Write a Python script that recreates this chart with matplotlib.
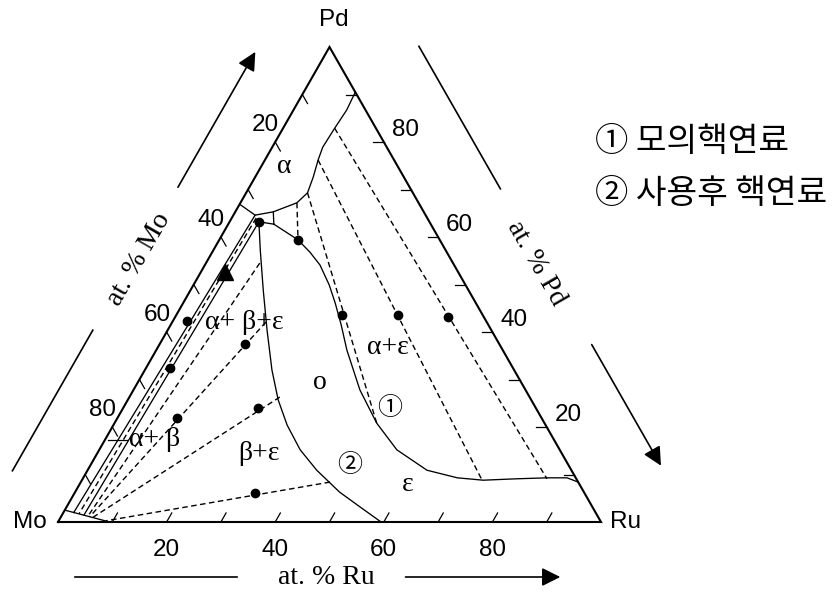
import numpy as np
import matplotlib.pyplot as plt

plt.rcParams['font.family'] = ['Liberation Sans', 'DejaVu Sans']

# compositions in at.% as (Ru, Pd); Mo is the balance

# alpha (Pd-rich) boundary, Pd-Ru side round to the Mo-Pd side
alpha_ru = [9.5, 9.8, 9.5, 9.3, 9.8, 10.7, 11.3, 10.4, 7.0, 4.0, 0.0]
alpha_pd = [90.5, 86.7, 82.9, 78.9, 76.2, 72.6, 69.3, 67.2, 65.3, 64.6, 66.9]

# epsilon boundary against alpha+epsilon
eps_a_ru = [8.4, 14.5, 18.0, 21.2, 25.0, 28.0, 31.4, 35.1, 41.7, 48.3, 54.8,
            62.5, 68.9, 73.9, 80.0, 85.5, 89.1, 91.6]
eps_a_pd = [62.7, 59.4, 56.8, 54.1, 49.9, 46.1, 41.5, 36.2, 27.8, 20.8, 15.2,
            10.9, 9.3, 8.8, 9.1, 9.3, 9.3, 8.4]

# epsilon boundary against beta+epsilon
eps_b_ru = [5.4, 8.6, 13.4, 18.3, 23.4, 27.7, 32.0, 37.0, 42.2, 48.7, 54.5, 59.5]
eps_b_pd = [63.2, 57.3, 48.8, 40.4, 32.0, 25.7, 20.4, 15.2, 10.9, 6.3, 2.9, 0.0]

# beta limit near the Mo corner
beta_ru = [0.0, 9.5]
beta_pd = [2.5, 0.0]

# straight solid boundaries: start (Ru, Pd) -> end (Ru, Pd)
edge_ru0 = [5.4, 7.0, 4.0, 5.4]
edge_pd0 = [63.2, 65.3, 64.6, 63.2]
edge_ru1 = [8.4, 8.4, 1.9, 4.05]
edge_pd1 = [62.7, 62.7, 2.0, 1.47]

# tie lines (dashed)
tie_ru0 = [4.5, 9.9, 17.25, 27.7, 45.9, 10.4, 11.3, 9.8, 9.5]
tie_pd0 = [64.0, 54.5, 42.1, 26.3, 8.4, 67.2, 69.3, 76.2, 82.9]
tie_ru1 = [3.0, 4.9, 5.3, 5.95, 8.7, 14.5, 48.3, 73.7, 85.5]
tie_pd1 = [1.75, 1.26, 1.16, 0.99, 0.25, 59.4, 20.8, 8.8, 9.1]

# alloy compositions
alloy_ru = [5.4, 14.5, 2.6, 4.4, 11.0, 15.7, 24.8, 33.2, 30.5, 40.8, 50.2]
alloy_pd = [63.2, 59.4, 42.3, 32.4, 21.9, 37.5, 24.0, 6.1, 43.6, 43.6, 43.2]

# phase field labels
field_txt = ['α', 'α+ β+ε', 'α+ε', 'o', 'β+ε', 'α+ β', 'ε']
field_ru = [4.3, 13.4, 42.4, 33.6, 29.7, 9.2, 60.6]
field_pd = [74.9, 41.9, 36.8, 29.3, 14.5, 17.3, 7.8]

mark_txt = ['①', '②']
mark_ru = [49.1, 47.8]
mark_pd = [24.0, 12.0]

tick_vals = [10, 20, 30, 40, 50, 60, 70, 80, 90]
label_vals = [20, 40, 60, 80]

legend_lines = ['① 모의핵연료', '② 사용후 핵연료']

SX, SY = 543.0, 475.0   # pixels per unit in x and y


def tern(ru, pd):
    ru = np.asarray(ru, float) / 100
    pd = np.asarray(pd, float) / 100
    return ru + pd / 2, pd


def push(pt, dx, dy):
    # move a data point by a pixel offset (y down)
    return pt[0] + dx / SX, pt[1] - dy / SY


fig = plt.figure(figsize=(8.35, 5.94), dpi=100)
ax = fig.add_axes([0, 0, 1, 1])
ax.set_xlim(-58 / SX, 777 / SX)
ax.set_ylim(-72 / SY, 522 / SY)
ax.axis('off')

# triangle
tx, ty = tern([0, 100, 0, 0], [0, 0, 100, 0])
ax.plot(tx, ty, color='k', lw=1.5, solid_joinstyle='miter')

# ticks
tl = 0.019
for v in tick_vals:
    x, y = tern(v, 0)                      # Ru along the base
    ax.plot([x, x + tl / 2], [y, y + tl], color='k', lw=0.9)
    x, y = tern(0, 100 - v)                # Mo along the left side
    ax.plot([x, x + tl / 2], [y, y - tl], color='k', lw=0.9)
    x, y = tern(100 - v, v)                # Pd along the right side
    ax.plot([x, x - tl], [y, y], color='k', lw=0.9)

lab_kw = dict(fontsize=17.5, textcoords='offset pixels')
for v in label_vals:
    ax.annotate(str(v), tern(v, 0), xytext=(0, -28), ha='center', va='center', **lab_kw)
    ax.annotate(str(v), tern(0, 100 - v), xytext=(4, 17), ha='right', va='center', **lab_kw)
    ax.annotate(str(v), tern(100 - v, v), xytext=(8, 12), ha='left', va='center', **lab_kw)

ax.annotate('Pd', tern(0, 100), xytext=(4, 27), textcoords='offset pixels',
            ha='center', va='center', fontsize=17.5)
ax.annotate('Mo', tern(0, 0), xytext=(-28, 0), textcoords='offset pixels',
            ha='center', va='center', fontsize=17.5)
ax.annotate('Ru', tern(100, 0), xytext=(25, 0), textcoords='offset pixels',
            ha='center', va='center', fontsize=17.5)

# phase boundaries
for ru, pd in [(alpha_ru, alpha_pd), (eps_a_ru, eps_a_pd),
               (eps_b_ru, eps_b_pd), (beta_ru, beta_pd)]:
    x, y = tern(ru, pd)
    ax.plot(x, y, color='k', lw=0.95)
for r0, p0, r1, p1 in zip(edge_ru0, edge_pd0, edge_ru1, edge_pd1):
    x, y = tern([r0, r1], [p0, p1])
    ax.plot(x, y, color='k', lw=0.95)
for r0, p0, r1, p1 in zip(tie_ru0, tie_pd0, tie_ru1, tie_pd1):
    x, y = tern([r0, r1], [p0, p1])
    ax.plot(x, y, color='k', lw=1.0, ls=(0, (4, 2.5)))

x, y = tern(alloy_ru, alloy_pd)
ax.plot(x, y, 'o', color='k', ms=6)

# arrow mark on the alpha+beta strip
x, y = tern(4.5, 52.6)
ax.plot(x, y, marker='^', color='k', ms=12)

serif = ['Liberation Serif', 'DejaVu Serif']
for t, ru, pd in zip(field_txt, field_ru, field_pd):
    x, y = tern(ru, pd)
    ax.text(x, y, t, ha='center', va='center', fontsize=20, family=serif)
x, y = tern([0.6, 4.1], [17.3, 17.3])
ax.plot(x, y, color='k', lw=0.9)
for t, ru, pd in zip(mark_txt, mark_ru, mark_pd):
    x, y = tern(ru, pd)
    ax.text(x, y, t, ha='center', va='center', fontsize=18,
            family=['Noto Sans CJK KR', 'DejaVu Sans'])

# axis captions with their arrows, set outside each side
n_left = (-0.868, -0.496)
n_right = (0.868, -0.496)
n_base = (0.0, 1.0)


def out(ru, pd, n, d):
    return push(tern(ru, pd), n[0] * d, n[1] * d)


def seg(p0, p1, head=False):
    if head:
        ax.annotate('', xy=p1, xytext=p0,
                    arrowprops=dict(arrowstyle='-|>', color='k', lw=1.2,
                                    mutation_scale=28, shrinkA=0, shrinkB=0))
    else:
        ax.plot([p0[0], p1[0]], [p0[1], p1[1]], color='k', lw=1.2)


seg(out(0, 4, n_left, 65), out(0, 33.6, n_left, 65))
seg(out(0, 64, n_left, 62), out(0, 92.5, n_left, 62), head=True)
x, y = out(0, 49, n_left, 60)
ax.text(x, y, 'at. % Mo', rotation=60, ha='center', va='center',
        fontsize=20, family=serif, rotation_mode='anchor')

seg(out(8, 92, n_right, 78), out(38, 62, n_right, 78))
seg(out(71, 29, n_right, 80), out(96.5, 3.5, n_right, 80), head=True)
x, y = out(53, 47, n_right, 72)
ax.text(x, y, 'at. % Pd', rotation=-60, ha='center', va='center',
        fontsize=20, family=serif, rotation_mode='anchor')

seg(out(3.1, 0, n_base, 55), out(33, 0, n_base, 55))
seg(out(64, 0, n_base, 55), out(92.5, 0, n_base, 55), head=True)
x, y = out(49.5, 0, n_base, 55)
ax.text(x, y, 'at. % Ru', ha='center', va='center', fontsize=20, family=serif)

# legend for the two fuel compositions
for i, t in enumerate(legend_lines):
    fig.text(595 / 835, 1 - (142 + 52 * i) / 594, t, ha='left', va='center',
             fontsize=24, family=['Noto Sans CJK KR', 'DejaVu Sans'])

fig.savefig('out.png', dpi=100)
